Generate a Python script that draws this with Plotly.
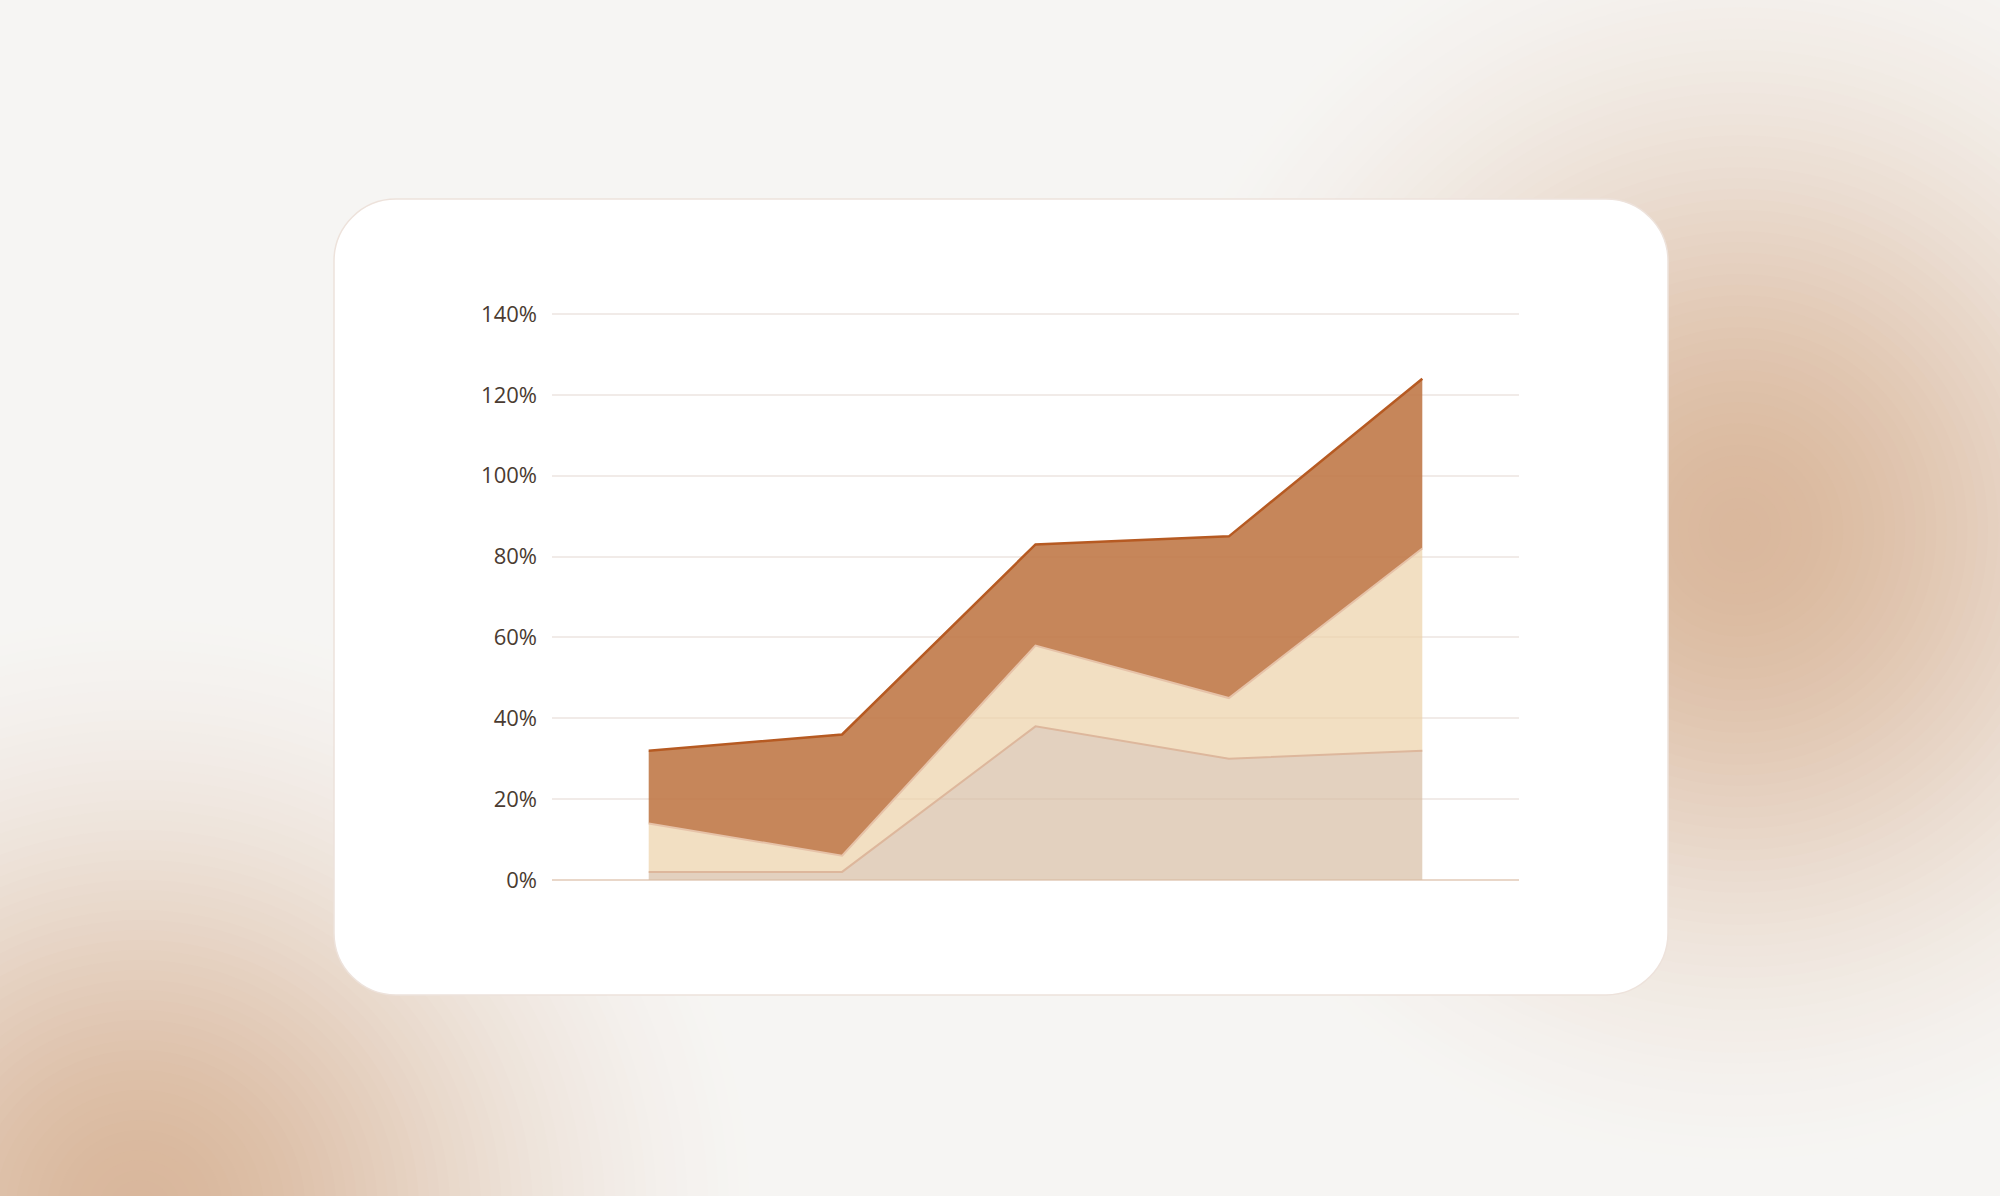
import numpy as np
import plotly.graph_objects as go

# Stacked area chart - three series, five periods (values in %)
periods = ["P1", "P2", "P3", "P4", "P5"]
base_share = [2, 2, 38, 30, 32]
mid_share = [12, 4, 20, 15, 50]
top_share = [18, 30, 25, 40, 42]
y_ticks = [0, 20, 40, 60, 80, 100, 120, 140]
y_labels = [f"{v}%" for v in y_ticks]

W, H = 2000, 1196
BG = np.array([246, 245, 243])


def px(x, y):
    # pixel -> paper coordinates (margins are zero so paper == page)
    return f"{x / W:.5f},{1 - y / H:.5f}"


def glow(fig, cx, cy, rx, ry, peak, n=60, k=2.6):
    # soft radial blob: opaque ellipses, colour fading out to the page colour
    peak = np.array(peak)
    norm = 1 - np.exp(-k)
    for f in np.linspace(1.0, 1.0 / n, n):
        g = (np.exp(-k * f * f) - np.exp(-k)) / norm
        r, gg, b = (BG + (peak - BG) * g).round().astype(int)
        fig.add_shape(type="circle", xref="paper", yref="paper", layer="below",
                      x0=(cx - rx * f) / W, x1=(cx + rx * f) / W,
                      y0=1 - (cy + ry * f) / H, y1=1 - (cy - ry * f) / H,
                      fillcolor=f"rgb({r},{gg},{b})", line_width=0)


def rounded_rect(L, T, R, B, r):
    k = 0.5523 * r
    return (f"M {px(L + r, T)} L {px(R - r, T)} "
            f"C {px(R - r + k, T)} {px(R, T + r - k)} {px(R, T + r)} "
            f"L {px(R, B - r)} "
            f"C {px(R, B - r + k)} {px(R - r + k, B)} {px(R - r, B)} "
            f"L {px(L + r, B)} "
            f"C {px(L + r - k, B)} {px(L, B - r + k)} {px(L, B - r)} "
            f"L {px(L, T + r)} "
            f"C {px(L, T + r - k)} {px(L + r - k, T)} {px(L + r, T)} Z")


fig = go.Figure()

fig.add_trace(go.Scatter(x=periods, y=base_share, stackgroup="s", mode="lines",
                         line=dict(color="#DDB79C", width=2),
                         fillcolor="rgba(215,189,164,0.7)"))
fig.add_trace(go.Scatter(x=periods, y=mid_share, stackgroup="s", mode="lines",
                         line=dict(color="#E6C2A8", width=2),
                         fillcolor="rgba(236,209,168,0.7)"))
fig.add_trace(go.Scatter(x=periods, y=top_share, stackgroup="s", mode="lines",
                         line=dict(color="#B65A22", width=2.5),
                         fillcolor="rgba(192,121,72,0.9)"))

# background glows
glow(fig, 1740, 530, 620, 640, (218, 184, 157))
glow(fig, 140, 1210, 620, 600, (217, 183, 156))

# card
fig.add_shape(type="path", xref="paper", yref="paper", layer="below",
              path=rounded_rect(334, 199, 1668, 995, 62),
              fillcolor="#FFFFFF", line=dict(color="#EDE2DB", width=1.5))

fig.update_layout(
    width=W, height=H,
    margin=dict(l=0, r=0, t=0, b=0),
    paper_bgcolor="#F6F5F3",
    plot_bgcolor="rgba(0,0,0,0)",
    showlegend=False,
    font=dict(family="Open Sans", size=22, color="#4A3B31"),
    xaxis=dict(domain=[552 / W, 1519 / W], range=[-0.5, 4.5], showticklabels=False,
               showgrid=False, zeroline=False, automargin=False, fixedrange=True),
    yaxis=dict(domain=[1 - 880 / H, 1 - 312 / H], range=[0, 140.5], tickvals=y_ticks,
               ticktext=y_labels, showgrid=True, gridcolor="#F1EBE8", gridwidth=1.5,
               zeroline=True, zerolinecolor="#E9D7C9", zerolinewidth=1.5,
               ticklabelstandoff=14, automargin=False, fixedrange=True),
)

fig.write_html("out.html", config={"displayModeBar": False},
               post_script="document.body.style.margin='0';document.body.style.overflow='hidden';")
